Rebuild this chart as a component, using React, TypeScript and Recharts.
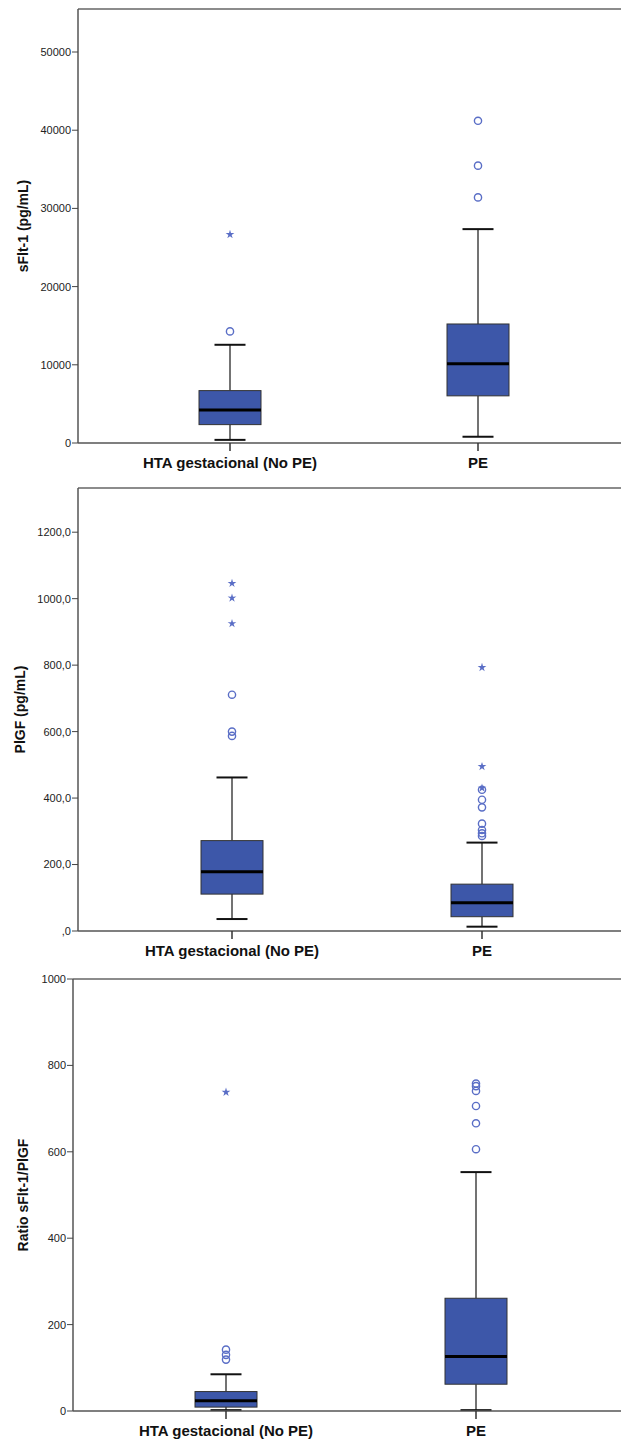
import React from 'react';
import { ComposedChart, Bar, Scatter, XAxis, YAxis, ReferenceLine, Label } from 'recharts';

const groups = ['HTA gestacional (No PE)', 'PE'];

// sFlt-1 (pg/mL)
const sfltLow = [400, 800];
const sfltQ1 = [2350, 6030];
const sfltMedian = [4230, 10130];
const sfltQ3 = [6700, 15220];
const sfltHigh = [12560, 27350];
const sfltOutliers = [[14270], [41200, 35470, 31410]];
const sfltExtremes = [[26670], []];
const sfltTicks = [0, 10000, 20000, 30000, 40000, 50000];

// PlGF (pg/mL)
const plgfLow = [36, 13];
const plgfQ1 = [111, 43];
const plgfMedian = [178, 85];
const plgfQ3 = [272, 141];
const plgfHigh = [462, 266];
const plgfOutliers = [[711, 600, 587], [425, 395, 372, 323, 304, 294, 286]];
const plgfExtremes = [[1046, 1002, 925], [793, 495, 430]];
const plgfTicks = [0, 200, 400, 600, 800, 1000, 1200];

// Ratio sFlt-1/PlGF
const ratioLow = [2, 2];
const ratioQ1 = [9, 62];
const ratioMedian = [24, 126];
const ratioQ3 = [45, 261];
const ratioHigh = [85, 553];
const ratioOutliers = [[142, 130, 119], [758, 752, 741, 706, 666, 606]];
const ratioExtremes = [[738], []];
const ratioTicks = [0, 200, 400, 600, 800, 1000];

const BOX_FILL = '#3d57a9';
const MARK = '#5a6ec6';
const FONT = '"Liberation Sans", Arial, sans-serif';

const BoxShape = (props: any) => {
  const { x, y, width, height, payload } = props;
  const top = Math.min(y, y + height);
  const h = Math.abs(height);
  const { low, high } = payload;
  const py = (v: number) => top + (h * (high - v)) / (high - low);
  const cx = x + width / 2;
  const cap = width / 4;
  return (
    <g>
      <line x1={cx} x2={cx} y1={py(high)} y2={py(payload.q3)} stroke="#444" strokeWidth={1.5} />
      <line x1={cx} x2={cx} y1={py(payload.q1)} y2={py(low)} stroke="#444" strokeWidth={1.5} />
      <line x1={cx - cap} x2={cx + cap} y1={py(high)} y2={py(high)} stroke="#111" strokeWidth={2} />
      <line x1={cx - cap} x2={cx + cap} y1={py(low)} y2={py(low)} stroke="#111" strokeWidth={2} />
      <rect
        x={x}
        y={py(payload.q3)}
        width={width}
        height={py(payload.q1) - py(payload.q3)}
        fill={BOX_FILL}
        stroke="#333"
        strokeWidth={1}
      />
      <line x1={x} x2={x + width} y1={py(payload.median)} y2={py(payload.median)} stroke="#000" strokeWidth={3} />
    </g>
  );
};

const Circle = (props: any) => (
  <circle cx={props.cx} cy={props.cy} r={3.6} fill="none" stroke={MARK} strokeWidth={1.4} />
);

const Star = (props: any) => {
  const { cx, cy } = props;
  const pts: string[] = [];
  for (let i = 0; i < 10; i++) {
    const r = i % 2 === 0 ? 4.6 : 1.7;
    const a = -Math.PI / 2 + (i * Math.PI) / 5;
    pts.push(`${cx + r * Math.cos(a)},${cy + r * Math.sin(a)}`);
  }
  return <polygon points={pts.join(' ')} fill={MARK} />;
};

interface PanelProps {
  height: number;
  marginTop: number;
  xAxisHeight: number;
  yWidth: number;
  padLeft: number;
  padRight: number;
  max: number;
  ticks: number[];
  fmt: (v: number) => string;
  label: string;
  labelDx: number;
  low: number[];
  q1: number[];
  median: number[];
  q3: number[];
  high: number[];
  outliers: number[][];
  extremes: number[][];
}

const BoxPanel: React.FC<PanelProps> = (p) => {
  const data = groups.map((g, i) => ({
    group: g,
    range: [p.low[i], p.high[i]],
    low: p.low[i],
    q1: p.q1[i],
    median: p.median[i],
    q3: p.q3[i],
    high: p.high[i],
  }));
  const circles = groups.flatMap((g, i) => p.outliers[i].map((v) => ({ group: g, value: v })));
  const stars = groups.flatMap((g, i) => p.extremes[i].map((v) => ({ group: g, value: v })));

  return (
    <ComposedChart
      width={621}
      height={p.height}
      data={data}
      margin={{ top: p.marginTop, right: 0, bottom: 0, left: 0 }}
    >
      <XAxis
        dataKey="group"
        type="category"
        allowDuplicatedCategory={false}
        height={p.xAxisHeight}
        padding={{ left: p.padLeft, right: p.padRight }}
        axisLine={{ stroke: '#555', strokeWidth: 1.5 }}
        tickLine={{ stroke: '#333', strokeWidth: 1.5 }}
        tickSize={8}
        tickMargin={6}
        tick={{ fontSize: 15, fontWeight: 'bold', fill: '#111', fontFamily: FONT }}
      />
      <YAxis
        type="number"
        width={p.yWidth}
        domain={[0, p.max]}
        ticks={p.ticks}
        allowDataOverflow
        tickFormatter={p.fmt}
        axisLine={{ stroke: '#555', strokeWidth: 1.5 }}
        tickLine={{ stroke: '#444', strokeWidth: 1 }}
        tickSize={6}
        tickMargin={1}
        tick={{ fontSize: 11, fill: '#222', fontFamily: FONT }}
      >
        <Label
          value={p.label}
          angle={-90}
          position="center"
          dx={p.labelDx}
          style={{ fontSize: 14, fontWeight: 'bold', fill: '#111', fontFamily: FONT }}
        />
      </YAxis>
      <ReferenceLine y={p.max} stroke="#666" strokeWidth={1.5} />
      <Bar dataKey="range" barSize={62} shape={BoxShape} isAnimationActive={false} />
      <Scatter data={circles} dataKey="value" shape={Circle} isAnimationActive={false} />
      <Scatter data={stars} dataKey="value" shape={Star} isAnimationActive={false} />
    </ComposedChart>
  );
};

const commaFmt = (v: number) => (v === 0 ? ',0' : v.toFixed(1).replace('.', ','));

export default function App() {
  return (
    <div style={{ position: 'absolute', left: 0, top: 0, width: 621, height: 1442, background: '#fff' }}>
      <BoxPanel
        height={480}
        marginTop={9}
        xAxisHeight={37}
        yWidth={78}
        padLeft={28}
        padRight={19}
        max={55500}
        ticks={sfltTicks}
        fmt={(v) => String(v)}
        label="sFlt-1 (pg/mL)"
        labelDx={-16}
        low={sfltLow}
        q1={sfltQ1}
        median={sfltMedian}
        q3={sfltQ3}
        high={sfltHigh}
        outliers={sfltOutliers}
        extremes={sfltExtremes}
      />
      <BoxPanel
        height={485}
        marginTop={8}
        xAxisHeight={34}
        yWidth={78}
        padLeft={29}
        padRight={14}
        max={1333}
        ticks={plgfTicks}
        fmt={commaFmt}
        label="PlGF (pg/mL)"
        labelDx={-19}
        low={plgfLow}
        q1={plgfQ1}
        median={plgfMedian}
        q3={plgfQ3}
        high={plgfHigh}
        outliers={plgfOutliers}
        extremes={plgfExtremes}
      />
      <BoxPanel
        height={477}
        marginTop={14}
        xAxisHeight={31}
        yWidth={73}
        padLeft={28}
        padRight={20}
        max={1000}
        ticks={ratioTicks}
        fmt={(v) => String(v)}
        label="Ratio sFlt-1/PlGF"
        labelDx={-13}
        low={ratioLow}
        q1={ratioQ1}
        median={ratioMedian}
        q3={ratioQ3}
        high={ratioHigh}
        outliers={ratioOutliers}
        extremes={ratioExtremes}
      />
    </div>
  );
}
